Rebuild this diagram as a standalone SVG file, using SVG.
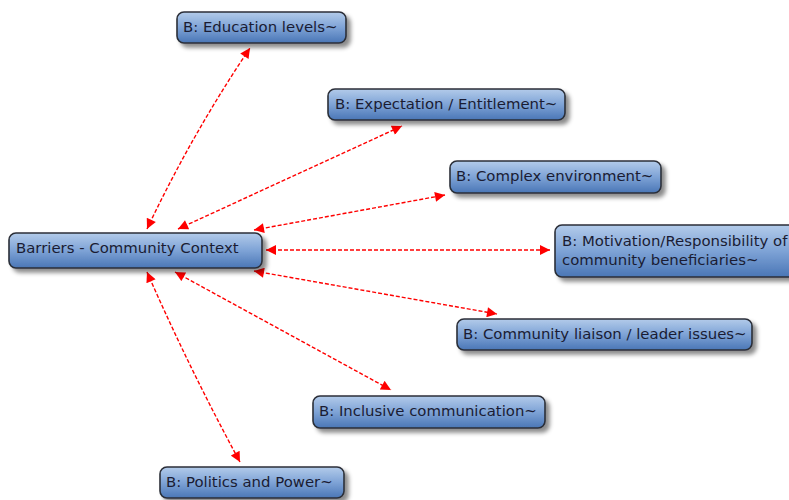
<svg xmlns="http://www.w3.org/2000/svg" width="789" height="500" viewBox="0 0 789 500">
  <defs>
    <linearGradient id="nodeFill" x1="0" y1="0" x2="0" y2="1">
      <stop offset="0" stop-color="#b3cbea"/>
      <stop offset="0.5" stop-color="#7ea3d6"/>
      <stop offset="1" stop-color="#4a76b6"/>
    </linearGradient>
    <filter id="shadow" x="-10%" y="-30%" width="130%" height="180%">
      <feDropShadow dx="4" dy="4" stdDeviation="2" flood-color="#000" flood-opacity="0.45"/>
    </filter>
    <marker id="arrow" viewBox="0 0 10 10" refX="10" refY="5" markerWidth="12" markerHeight="10" markerUnits="userSpaceOnUse" orient="auto-start-reverse">
      <path d="M0,0 L10,5 L0,10 Z" fill="#ff0000"/>
    </marker>
  </defs>
  <style>
    .node rect { fill: url(#nodeFill); stroke: #2b2f38; stroke-width: 1.6; filter: url(#shadow); }
    .node text { font-family: Tahoma, "DejaVu Sans", "Liberation Sans", sans-serif; font-size: 14.9px; fill: #1a1c33; }
    .link { fill: none; stroke: #ff0000; stroke-width: 1.4; stroke-dasharray: 4 2; marker-start: url(#arrow); marker-end: url(#arrow); }
  </style>
  <rect width="789" height="500" fill="#ffffff"/>

  <g id="connectors">
    <path class="link" d="M147,229 Q192,134 250,48"/>
    <path class="link" d="M178,229 L402,126"/>
    <path class="link" d="M254,230 L445,195"/>
    <path class="link" d="M266,250 L550,250"/>
    <path class="link" d="M254,271 L497,314"/>
    <path class="link" d="M175,272 L391,390"/>
    <path class="link" d="M147,272 Q190,370 240,462"/>
  </g>

  <g id="barriers" class="node">
    <rect x="9" y="233" width="253" height="35" rx="7"/>
    <text x="16" y="253">Barriers - Community Context</text>
  </g>
  <g id="education" class="node">
    <rect x="177" y="12" width="169" height="31" rx="7"/>
    <text x="183" y="32">B: Education levels~</text>
  </g>
  <g id="expectation" class="node">
    <rect x="328" y="89" width="237" height="31" rx="7"/>
    <text x="335" y="109">B: Expectation / Entitlement~</text>
  </g>
  <g id="complex" class="node">
    <rect x="450" y="161" width="211" height="32" rx="7"/>
    <text x="456" y="181">B: Complex environment~</text>
  </g>
  <g id="motivation" class="node">
    <rect x="555" y="225" width="250" height="52" rx="7"/>
    <text x="562" y="246">B: Motivation/Responsibility of</text>
    <text x="562" y="265">community beneficiaries~</text>
  </g>
  <g id="liaison" class="node">
    <rect x="457" y="319" width="295" height="31" rx="7"/>
    <text x="463" y="339">B: Community liaison / leader issues~</text>
  </g>
  <g id="inclusive" class="node">
    <rect x="313" y="396" width="232" height="32" rx="7"/>
    <text x="319" y="416">B: Inclusive communication~</text>
  </g>
  <g id="politics" class="node">
    <rect x="160" y="467" width="184" height="31" rx="7"/>
    <text x="166" y="487">B: Politics and Power~</text>
  </g>
</svg>
